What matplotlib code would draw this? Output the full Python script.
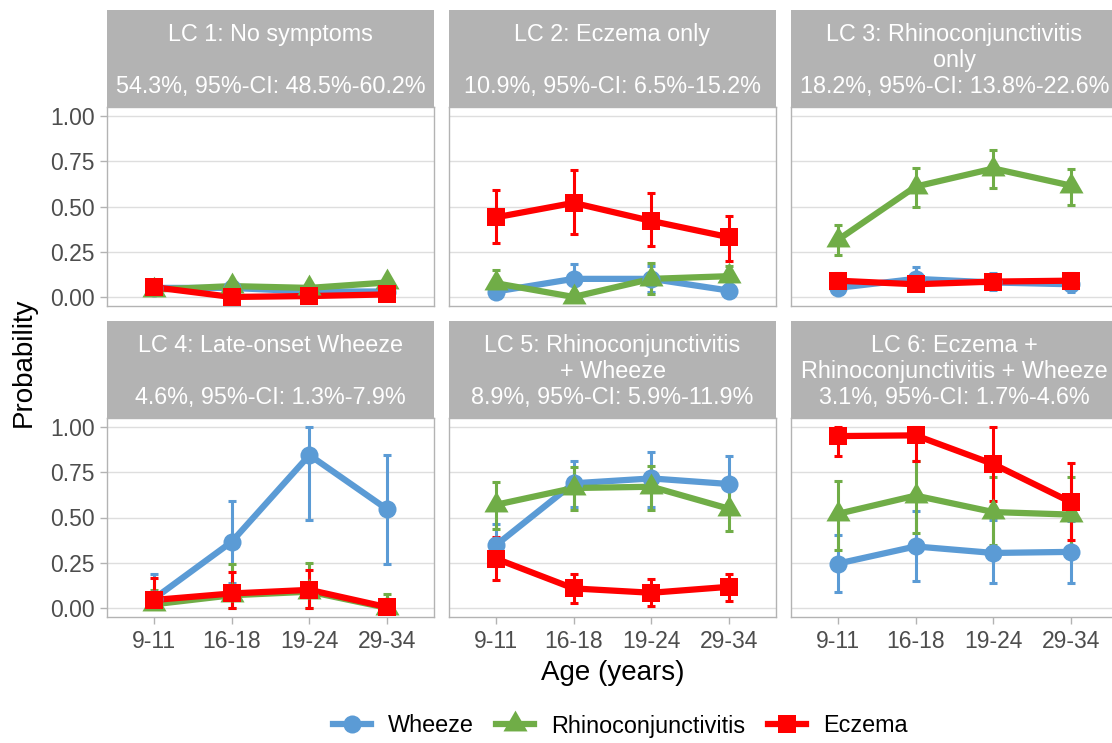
import matplotlib
matplotlib.use("Agg")
import matplotlib.pyplot as plt
from matplotlib.lines import Line2D
import numpy as np

plt.rcParams["font.family"] = ["Liberation Sans", "DejaVu Sans"]

# ─── Data ─────────────────────────────────────────────────────────────────────

AGES = ["9-11", "16-18", "19-24", "29-34"]

TITLES = [
    "LC 1: No symptoms\n\n54.3%, 95%-CI: 48.5%-60.2%",
    "LC 2: Eczema only\n\n10.9%, 95%-CI: 6.5%-15.2%",
    "LC 3: Rhinoconjunctivitis\nonly\n18.2%, 95%-CI: 13.8%-22.6%",
    "LC 4: Late-onset Wheeze\n\n4.6%, 95%-CI: 1.3%-7.9%",
    "LC 5: Rhinoconjunctivitis\n+ Wheeze\n8.9%, 95%-CI: 5.9%-11.9%",
    "LC 6: Eczema +\nRhinoconjunctivitis + Wheeze\n3.1%, 95%-CI: 1.7%-4.6%",
]

# one row per latent class, columns = age groups
wheeze     = [[0.05, 0.05, 0.03, 0.03],
              [0.03, 0.10, 0.10, 0.035],
              [0.05, 0.10, 0.08, 0.07],
              [0.05, 0.365, 0.845, 0.545],
              [0.346, 0.689, 0.716, 0.685],
              [0.245, 0.34, 0.304, 0.31]]
wheeze_lo  = [[0.04, 0.04, 0.02, 0.02],
              [0.01, 0.03, 0.03, 0.01],
              [0.02, 0.05, 0.04, 0.03],
              [0.0, 0.14, 0.487, 0.245],
              [0.23, 0.56, 0.557, 0.53],
              [0.09, 0.15, 0.136, 0.14]]
wheeze_hi  = [[0.06, 0.06, 0.04, 0.04],
              [0.06, 0.18, 0.17, 0.07],
              [0.09, 0.167, 0.13, 0.11],
              [0.187, 0.593, 1.0, 0.845],
              [0.465, 0.81, 0.863, 0.84],
              [0.406, 0.535, 0.487, 0.48]]

rhino      = [[0.04, 0.06, 0.05, 0.08],
              [0.076, 0.0, 0.10, 0.115],
              [0.315, 0.61, 0.71, 0.615],
              [0.02, 0.07, 0.09, 0.0],
              [0.57, 0.663, 0.67, 0.548],
              [0.52, 0.621, 0.53, 0.516]]
rhino_lo   = [[0.03, 0.05, 0.04, 0.07],
              [0.02, 0.0, 0.017, 0.06],
              [0.232, 0.496, 0.60, 0.507],
              [0.0, 0.0, 0.0, 0.0],
              [0.438, 0.542, 0.542, 0.425],
              [0.322, 0.414, 0.35, 0.33]]
rhino_hi   = [[0.05, 0.07, 0.06, 0.09],
              [0.15, 0.03, 0.186, 0.17],
              [0.398, 0.714, 0.812, 0.707],
              [0.10, 0.242, 0.248, 0.075],
              [0.694, 0.78, 0.786, 0.67],
              [0.703, 0.813, 0.725, 0.725]]

eczema     = [[0.054, 0.0, 0.005, 0.014],
              [0.44, 0.52, 0.42, 0.33],
              [0.09, 0.07, 0.085, 0.09],
              [0.044, 0.08, 0.10, 0.004],
              [0.273, 0.108, 0.084, 0.117],
              [0.95, 0.954, 0.795, 0.584]]
eczema_lo  = [[0.045, 0.0, 0.0, 0.005],
              [0.30, 0.35, 0.28, 0.20],
              [0.05, 0.04, 0.05, 0.05],
              [0.0, 0.0, 0.0, 0.0],
              [0.154, 0.026, 0.01, 0.04],
              [0.84, 0.81, 0.59, 0.377]]
eczema_hi  = [[0.065, 0.01, 0.015, 0.025],
              [0.59, 0.70, 0.575, 0.45],
              [0.13, 0.11, 0.12, 0.13],
              [0.163, 0.20, 0.209, 0.03],
              [0.39, 0.19, 0.16, 0.19],
              [1.0, 1.0, 1.0, 0.80]]

# ─── Style ────────────────────────────────────────────────────────────────────

BLUE  = "#5B9BD5"
GREEN = "#70AD47"
RED   = "#FF0000"
STRIP = "#B3B3B3"
BORDER = "#B3B3B3"
GRID  = "#DEDEDE"
TICKC = "#4D4D4D"

# equilateral triangle like ggplot shape 17
TRI = [(0, 0.577), (-0.5, -0.289), (0.5, -0.289), (0, 0.577)]

SERIES = [
    ("Wheeze", wheeze, wheeze_lo, wheeze_hi, BLUE, "o", 13),
    ("Rhinoconjunctivitis", rhino, rhino_lo, rhino_hi, GREEN, TRI, 20),
    ("Eczema", eczema, eczema_lo, eczema_hi, RED, "s", 13),
]

W, H = 1112, 743
fig = plt.figure(figsize=(W / 100, H / 100), dpi=100)


def px_axes(x0, y0, x1, y1):
    return fig.add_axes([x0 / W, 1 - y1 / H, (x1 - x0) / W, (y1 - y0) / H])


COLS = [(107, 434), (449, 776), (791, 1118)]
ROWS = [((10, 107), (107, 306)), ((321, 418), (418, 617))]

x = np.arange(1, 5)

for k in range(6):
    r, c = divmod(k, 3)
    (sy0, sy1), (py0, py1) = ROWS[r]
    cx0, cx1 = COLS[c]

    # strip
    sax = px_axes(cx0, sy0, cx1, sy1)
    sax.set_facecolor(STRIP)
    sax.set_xticks([])
    sax.set_yticks([])
    for sp in sax.spines.values():
        sp.set_visible(False)
    sax.text(0.5, 0.48, TITLES[k], ha="center", va="center", color="white",
             fontsize=16.8, linespacing=1.17, transform=sax.transAxes)

    ax = px_axes(cx0, py0, cx1, py1)
    ax.set_xlim(0.4, 4.6)
    ax.set_ylim(-0.05, 1.05)
    ax.set_yticks([0, 0.25, 0.5, 0.75, 1.0])
    ax.yaxis.grid(True, color=GRID, linewidth=1.0, zorder=0)
    ax.set_axisbelow(True)
    for sp in ax.spines.values():
        sp.set_color(BORDER)
        sp.set_linewidth(1.0)
    ax.tick_params(colors=BORDER, labelcolor=TICKC, labelsize=16.5,
                   length=5, width=1.0, pad=4)
    ax.set_xticks(x)
    if r == 1:
        ax.set_xticklabels(AGES)
    else:
        ax.tick_params(axis="x", length=0, labelbottom=False)
    if c == 0:
        ax.set_yticklabels(["0.00", "0.25", "0.50", "0.75", "1.00"])
    else:
        ax.tick_params(axis="y", length=0, labelleft=False)

    for name, m, lo, hi, col, mk, ms in SERIES:
        v = np.array(m[k])
        err = [v - np.array(lo[k]), np.array(hi[k]) - v]
        ax.errorbar(x, v, yerr=err, fmt="none", ecolor=col, elinewidth=2.2,
                    capsize=2.8, capthick=2.2, zorder=2)
    for name, m, lo, hi, col, mk, ms in SERIES:
        ax.plot(x, m[k], color=col, linewidth=4.5, zorder=3,
                solid_capstyle="butt")
    for name, m, lo, hi, col, mk, ms in SERIES:
        ax.plot(x, m[k], linestyle="none", marker=mk, markersize=ms,
                color=col, markeredgewidth=0, zorder=4)

fig.text(613 / W, 1 - 673 / H, "Age (years)", ha="center", va="center",
         fontsize=20)
fig.text(24 / W, 1 - 362 / H, "Probability", ha="center", va="center",
         rotation=90, fontsize=20)

handles = [Line2D([0], [0], color=col, linewidth=4.5, marker=mk,
                  markersize=ms, markeredgewidth=0, label=name)
           for name, m, lo, hi, col, mk, ms in SERIES]
fig.legend(handles=handles, loc="center", ncol=3, frameon=False,
           bbox_to_anchor=(620 / W, 1 - 726 / H), fontsize=16.8,
           handlelength=1.65, handletextpad=0.72, columnspacing=0.95)

fig.savefig("out.png", dpi=100)
